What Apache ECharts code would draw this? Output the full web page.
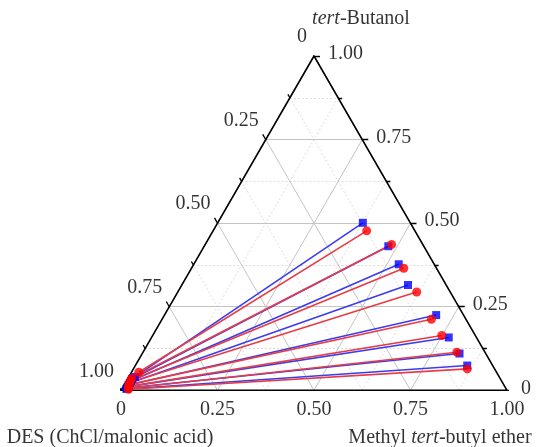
<!DOCTYPE html>
<html><head><meta charset="utf-8">
<script src="https://cdn.jsdelivr.net/npm/echarts@6/dist/echarts.min.js"></script>
<style>html,body{margin:0;padding:0;background:#fff}#c{width:539px;height:447px}</style>
</head><body><div id="c"></div>
<script>
// Ternary data: each point is [MTBE fraction, tert-Butanol fraction]; DES = 1 - MTBE - TBA
const blueRight = [[0.376,0.501],[0.477,0.431],[0.531,0.377],[0.586,0.315],[0.704,0.225],[0.770,0.158],[0.822,0.110],[0.860,0.074]];
const blueLeft  = [[0.016,0.040],[0.012,0.034],[0.012,0.028],[0.012,0.022],[0.012,0.016],[0.012,0.011],[0.012,0.007],[0.012,0.004]];
const redRight  = [[0.398,0.477],[0.483,0.436],[0.550,0.365],[0.619,0.294],[0.698,0.2125],[0.749,0.164],[0.813,0.114],[0.865,0.064]];
const redLeft   = [[0.019,0.054],[0.010,0.036],[0.010,0.029],[0.011,0.023],[0.012,0.017],[0.014,0.011],[0.016,0.006],[0.018,0.003]];
const tickValues = [0, 0.25, 0.5, 0.75, 1];
const tickLabels = ['0', '0.25', '0.50', '0.75', '1.00'];
const minorValues = [0.125, 0.375, 0.625, 0.875];
const cornerTop = '{i|tert}-Butanol';
const cornerLeft = 'DES (ChCl/malonic acid)';
const cornerRight = 'Methyl {i|tert}-butyl ether';

const H = Math.sqrt(3) / 2;
const PX = 386; // grid width in px
function P(m, t) { return [m + t / 2, t * H]; }
function add(p, d, len) { return [p[0] + d[0] * len / PX, p[1] + d[1] * len / PX]; }

const font = '"Liberation Serif","Times New Roman",serif';
const grid = { left: 121, top: 56, width: PX, height: PX * H };

// grid lines
const majorGrid = [], minorGrid = [];
function gridFor(v, arr) {
  arr.push({ coords: [P(0, v), P(1 - v, v)] });       // const TBA
  arr.push({ coords: [P(v, 0), P(v, 1 - v)] });       // const MTBE
  arr.push({ coords: [P(1 - v, 0), P(0, 1 - v)] });   // const DES
}
[0.25, 0.5, 0.75].forEach(v => gridFor(v, majorGrid));
minorValues.forEach(v => gridFor(v, minorGrid));

// ticks
const dBottom = [-0.5, -H], dRight = [1, 0], dLeft = [-0.5, H];
const ticks = [];
function tickSet(vals, len) {
  vals.forEach(v => {
    let b = P(v, 0); ticks.push({ coords: [b, add(b, dBottom, len)] });
    let r = P(1 - v, v); ticks.push({ coords: [r, add(r, dRight, len)] });
    let l = P(0, 1 - v); ticks.push({ coords: [l, add(l, dLeft, len)] });
  });
}
tickSet(tickValues, 6);
tickSet(minorValues, 4);

// labels
const labelData = [];
const base = { color: '#000', fontFamily: font, fontSize: 20 };
tickValues.forEach((v, i) => {
  labelData.push({ value: P(v, 0), label: Object.assign({}, base, { formatter: tickLabels[i], position: 'inside', align: 'center', verticalAlign: 'middle', offset: [0, 19] }) });
  labelData.push({ value: P(1 - v, v), label: Object.assign({}, base, { formatter: tickLabels[i], position: 'inside', align: 'left', verticalAlign: 'middle', offset: [14, -2] }) });
  labelData.push({ value: P(0, 1 - v), label: Object.assign({}, base, { formatter: tickLabels[i], position: 'inside', align: 'right', verticalAlign: 'middle', offset: [-7, -19] }) });
});
const rich = { i: { fontStyle: 'italic', fontFamily: font, fontSize: 20, color: '#000' } };
labelData.push({ value: P(0, 1), label: Object.assign({}, base, { formatter: cornerTop, rich, position: 'inside', align: 'center', verticalAlign: 'middle', offset: [47, -37] }) });
labelData.push({ value: P(0, 0), label: Object.assign({}, base, { formatter: cornerLeft, rich, position: 'inside', align: 'center', verticalAlign: 'middle', offset: [-11, 47] }) });
labelData.push({ value: P(1, 0), label: Object.assign({}, base, { formatter: cornerRight, rich, position: 'inside', align: 'center', verticalAlign: 'middle', offset: [-67, 47] }) });

const blueTies = blueLeft.map((p, i) => ({ coords: [P(p[0], p[1]), P(blueRight[i][0], blueRight[i][1])] }));
const redTies = redLeft.map((p, i) => ({ coords: [P(p[0], p[1]), P(redRight[i][0], redRight[i][1])] }));

const chart = echarts.init(document.getElementById('c'), null, { renderer: 'canvas' });
chart.setOption({
  animation: false,
  backgroundColor: '#fff',
  grid: grid,
  xAxis: { type: 'value', min: 0, max: 1, show: false },
  yAxis: { type: 'value', min: 0, max: H, show: false },
  series: [
    { type: 'lines', coordinateSystem: 'cartesian2d', data: minorGrid, silent: true, z: 1,
      lineStyle: { color: '#dcdcdc', width: 1, type: [2, 2], opacity: 1 } },
    { type: 'lines', coordinateSystem: 'cartesian2d', data: majorGrid, silent: true, z: 2,
      lineStyle: { color: '#c4c4c4', width: 1, opacity: 1 } },
    { type: 'lines', coordinateSystem: 'cartesian2d', data: ticks, silent: true, z: 3,
      lineStyle: { color: '#000', width: 1.3, opacity: 1 } },
    { type: 'line', data: [P(0, 0), P(1, 0), P(0, 1), P(0, 0)], symbol: 'none', silent: true, z: 4,
      lineStyle: { color: '#000', width: 1.6 } },
    { type: 'lines', coordinateSystem: 'cartesian2d', data: blueTies, silent: true, z: 5,
      lineStyle: { color: '#3b3bf0', width: 1.6, opacity: 1 } },
    { type: 'lines', coordinateSystem: 'cartesian2d', data: redTies, silent: true, z: 6,
      lineStyle: { color: '#e63c46', width: 1.6, opacity: 1 } },
    { type: 'scatter', data: blueLeft.concat(blueRight).map(p => P(p[0], p[1])), symbol: 'rect', symbolSize: 8, z: 7,
      itemStyle: { color: '#0000ff' } },
    { type: 'scatter', data: redLeft.concat(redRight).map(p => P(p[0], p[1])), symbol: 'circle', symbolSize: 9, z: 8,
      itemStyle: { color: '#ff0000' } },
    { type: 'scatter', data: labelData, symbolSize: 0, silent: true, z: 9,
      label: { show: true } }
  ]
});
</script></body></html>
